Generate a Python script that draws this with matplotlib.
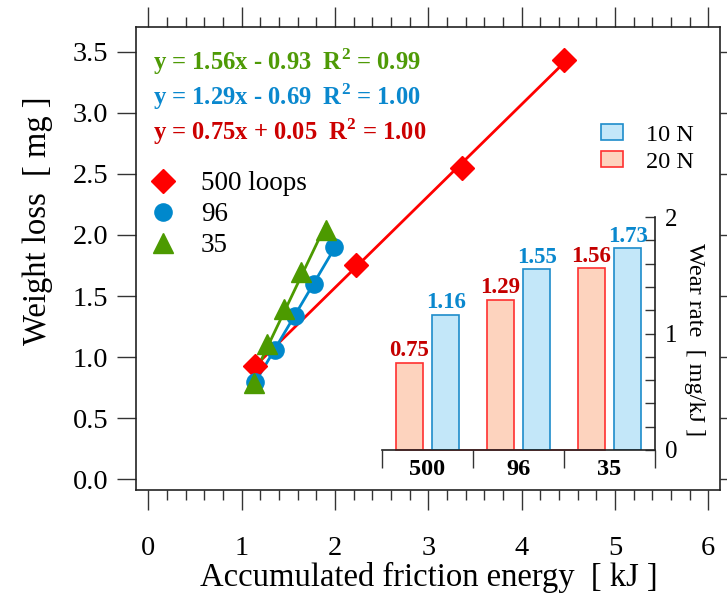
import numpy as np
import matplotlib
matplotlib.use('Agg')
import matplotlib.pyplot as plt
from matplotlib.patches import Patch
from matplotlib.lines import Line2D
from matplotlib.ticker import MultipleLocator

plt.rcParams['font.family'] = ['Liberation Serif', 'DejaVu Serif']
plt.rcParams['mathtext.fontset'] = 'custom'
plt.rcParams['mathtext.rm'] = 'Liberation Serif'
plt.rcParams['mathtext.bf'] = 'Liberation Serif:bold'

# ---------------- data ----------------
x500 = [1.14, 2.23, 3.36, 4.45]
y500 = [0.93, 1.75, 2.55, 3.43]
x96 = [1.14, 1.36, 1.57, 1.78, 1.99]
y96 = [0.80, 1.06, 1.34, 1.60, 1.90]
x35 = [1.13, 1.27, 1.45, 1.64, 1.90]
y35 = [0.79, 1.11, 1.39, 1.70, 2.04]

series_labels = ['500 loops', '96', '35']
eq_left = ['y = 1.56x - 0.93  R', 'y = 1.29x - 0.69  R', 'y = 0.75x + 0.05  R']
eq_right = ['0.99', '1.00', '1.00']

categories = ['500', '96', '35']
rate_20N = [0.75, 1.29, 1.56]
rate_10N = [1.16, 1.55, 1.73]

x_ticks = [0, 1, 2, 3, 4, 5, 6]
y_ticks = [0.0, 0.5, 1.0, 1.5, 2.0, 2.5, 3.0, 3.5]

# ---------------- styles ----------------
RED = '#FF0000'
BLUE = '#0088CC'
GREEN = '#4C9A00'
TXT_RED = '#CC0000'
TXT_BLUE = '#0A88CE'
TXT_GREEN = '#4E9A06'
FILL_20 = '#FDD3BE'
EDGE_20 = '#FF3030'
FILL_10 = '#C3E7F9'
EDGE_10 = '#1E8CCB'

W, H = 727, 597
fig = plt.figure(figsize=(W / 100, H / 100), dpi=100)

def fx(px):
    return px / W

def fy(py):
    return 1 - py / H

ax = fig.add_axes([fx(136), fy(490), fx(720) - fx(136), fy(27.3) - fy(490)])
ax.set_xlim(-0.132, 6.125)
ax.set_ylim(-0.088, 3.70)

MS = {'D': 12.5, 'o': 12.4, '^': 14}

# fit lines + markers
for xs, ys, col, mk in [(x500, y500, RED, 'D'),
                        (x96, y96, BLUE, 'o'),
                        (x35, y35, GREEN, '^')]:
    p = np.polyfit(xs, ys, 1)
    xl = np.array([min(xs), max(xs)])
    ax.plot(xl, np.polyval(p, xl), color=col, lw=2.0, zorder=2)
    ax.plot(xs, ys, ls='none', marker=mk, ms=MS[mk], color=col, mec=col, zorder=3)

# ticks
ax.set_xticks(x_ticks)
ax.set_xticklabels([str(t) for t in x_ticks])
ax.xaxis.set_minor_locator(MultipleLocator(0.2))
ax.set_yticks(y_ticks)
ax.set_yticklabels([f'{t:.1f}' for t in y_ticks])
ax.tick_params(axis='both', which='both', direction='out', top=True, right=True,
               labelsize=20.5, width=1.0, color='#333333')
ax.tick_params(axis='x', which='major', length=14.5, pad=18.5)
ax.tick_params(axis='x', which='minor', length=7.5)
ax.tick_params(axis='y', which='major', length=14, pad=6)
ax.tick_params(axis='y', which='minor', length=0)
for s in ax.spines.values():
    s.set_linewidth(1.2)
    s.set_color('#222222')

fig.text(fx(429), fy(577), 'Accumulated friction energy  [ kJ ]', fontsize=23.5,
         ha='center', va='center')
fig.text(fx(38), fy(221), 'Weight loss  [ mg ]', fontsize=23.5, rotation=90,
         ha='center', va='center')

# equations
eq_cols = [TXT_GREEN, TXT_BLUE, TXT_RED]
eq_base = [70, 105, 140]
for l, r, c, yb in zip(eq_left, eq_right, eq_cols, eq_base):
    fig.text(fx(153), fy(yb), l + r'$^{\mathbf{2}}$' + ' = ' + r, color=c,
             fontsize=17.7, fontweight='bold', ha='left', va='baseline')

# main legend
handles = [Line2D([], [], ls='none', marker='D', ms=MS['D'], color=RED),
           Line2D([], [], ls='none', marker='o', ms=MS['o'], color=BLUE),
           Line2D([], [], ls='none', marker='^', ms=MS['^'], color=GREEN)]
ax.legend(handles, series_labels, loc='upper left',
          bbox_to_anchor=(fx(149.8), fy(171.5)), bbox_transform=fig.transFigure,
          frameon=False, fontsize=19.5, handlelength=1.0, handletextpad=0.88,
          labelspacing=0.22, borderpad=0, borderaxespad=0, numpoints=1)

# ---------------- inset bar chart ----------------
ax2 = fig.add_axes([fx(382), fy(450), fx(655) - fx(382), fy(217) - fy(450)])
ax2.set_facecolor('none')
idx = np.arange(len(categories))
bw = 0.3
ax2.plot([idx[0] - 0.2 - bw / 2, idx[-1] - 0.2 + bw / 2], [0, 0], color=EDGE_20,
         lw=1.2, zorder=1, clip_on=False)
ax2.bar(idx - 0.2, rate_20N, bw, color=FILL_20, edgecolor=EDGE_20, lw=1.2, zorder=2)
ax2.bar(idx + 0.2, rate_10N, bw, color=FILL_10, edgecolor=EDGE_10, lw=1.2, zorder=2)
for i in idx:
    ax2.text(i - 0.2, rate_20N[i] + 0.012, f'{rate_20N[i]:.2f}', color='#C40000',
             fontsize=16.5, fontweight='bold', ha='center', va='bottom')
    ax2.text(i + 0.2, rate_10N[i] + 0.012, f'{rate_10N[i]:.2f}', color=TXT_BLUE,
             fontsize=16.5, fontweight='bold', ha='center', va='bottom')

ax2.set_xlim(-0.5, 2.5)
ax2.set_ylim(0, 2)
for side in ['left', 'top']:
    ax2.spines[side].set_visible(False)
for side in ['right', 'bottom']:
    ax2.spines[side].set_linewidth(1.2)
    ax2.spines[side].set_color('#222222')
ax2.yaxis.set_ticks_position('right')
ax2.set_yticks([0, 1, 2])
ax2.set_yticklabels(['0', '1', '2'])
ax2.yaxis.set_minor_locator(MultipleLocator(0.2))
ax2.tick_params(axis='y', which='both', direction='in', length=7, width=1.0,
                labelsize=18, pad=7, color='#333333')
ax2.set_xticks([-0.5, 0.5, 1.5, 2.5])
ax2.set_xticklabels([''] * 4)
ax2.set_xticks(idx, minor=True)
ax2.set_xticklabels(categories, minor=True, fontweight='bold', fontsize=17.5)
ax2.tick_params(axis='x', which='major', direction='out', length=13, width=1.0,
                color='#333333')
ax2.tick_params(axis='x', which='minor', length=0, pad=6.5)

fig.text(fx(695), fy(340), 'Wear rate  [ mg/kJ ]', fontsize=17.5, rotation=270,
         ha='center', va='center')

lh = [Patch(facecolor=FILL_10, edgecolor=EDGE_10, lw=1.2),
      Patch(facecolor=FILL_20, edgecolor=EDGE_20, lw=1.2)]
fig.legend(lh, ['10 N', '20 N'], loc='upper left',
           bbox_to_anchor=(fx(601), fy(124)), frameon=False, fontsize=17.5,
           handlelength=0.9, handleheight=0.65, handletextpad=0.95,
           labelspacing=0.22, borderpad=0, borderaxespad=0)

fig.savefig('out.png', dpi=100)
